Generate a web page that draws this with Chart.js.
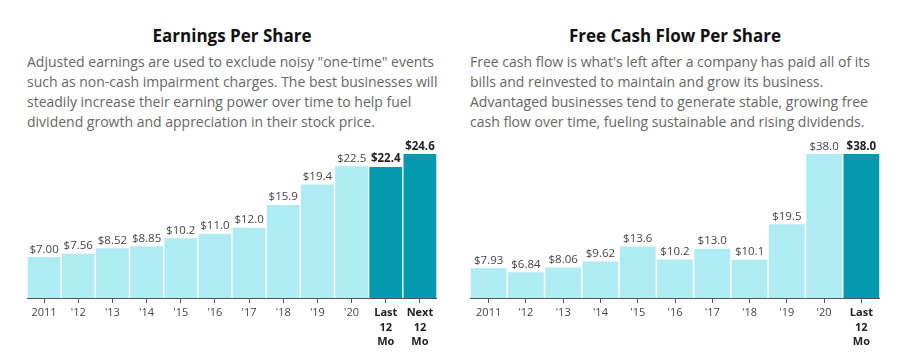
<!DOCTYPE html>
<html>
<head>
<meta charset="utf-8">
<script src="https://cdn.jsdelivr.net/npm/chart.js@4"></script>
<style>
  html, body { margin:0; padding:0; background:#fff; width:906px; height:357px; overflow:hidden; font-family:"Open Sans", sans-serif; }
  .title { position:absolute; top:24px; font-weight:700; font-size:17px; color:#111; text-align:center; line-height:24px; }
  .desc { position:absolute; top:52px; font-size:14px; line-height:20px; color:#666; }
  .box { position:absolute; top:140px; height:212px; }
</style>
</head>
<body>
<div class="title" style="left:27px;width:410px;">Earnings Per Share</div>
<div class="desc" style="left:27px;width:420px;">Adjusted earnings are used to exclude noisy "one-time" events such as non-cash impairment charges. The best businesses will steadily increase their earning power over time to help fuel dividend growth and appreciation in their stock price.</div>
<div class="title" style="left:470px;width:410px;">Free Cash Flow Per Share</div>
<div class="desc" style="left:470px;width:420px;">Free cash flow is what's left after a company has paid all of its bills and reinvested to maintain and grow its business. Advantaged businesses tend to generate stable, growing free cash flow over time, fueling sustainable and rising dividends.</div>

<div class="box" style="left:27px;width:410px;"><canvas id="eps"></canvas></div>
<div class="box" style="left:470px;width:410px;"><canvas id="fcf"></canvas></div>

<script>
const epsCategories = ["2011","'12","'13","'14","'15","'16","'17","'18","'19","'20",["Last","12","Mo"],["Next","12","Mo"]];
const epsValues = [7.00, 7.56, 8.52, 8.85, 10.2, 11.0, 12.0, 15.9, 19.4, 22.5, 22.4, 24.6];
const epsLabels = ["$7.00","$7.56","$8.52","$8.85","$10.2","$11.0","$12.0","$15.9","$19.4","$22.5","$22.4","$24.6"];
const epsHighlightFrom = 10;

const fcfCategories = ["2011","'12","'13","'14","'15","'16","'17","'18","'19","'20",["Last","12","Mo"]];
const fcfValues = [7.93, 6.84, 8.06, 9.62, 13.6, 10.2, 13.0, 10.1, 19.5, 38.0, 38.0];
const fcfLabels = ["$7.93","$6.84","$8.06","$9.62","$13.6","$10.2","$13.0","$10.1","$19.5","$38.0","$38.0"];
const fcfHighlightFrom = 10;

const LIGHT = '#AFEBF3';
const DARK = '#039AAF';

const valueLabelPlugin = {
  id: 'valueLabels',
  afterDatasetsDraw(chart) {
    const ctx = chart.ctx;
    const meta = chart.getDatasetMeta(0);
    const labels = chart.options.plugins.valueLabels.labels;
    const hl = chart.options.plugins.valueLabels.highlightFrom;
    ctx.save();
    ctx.textAlign = 'center';
    ctx.textBaseline = 'bottom';
    meta.data.forEach((bar, i) => {
      const bold = i >= hl;
      ctx.font = (bold ? '700 ' : '400 ') + '11.5px "Open Sans"';
      ctx.fillStyle = bold ? '#222' : '#444';
      ctx.fillText(labels[i], bar.x, bar.y - 2);
    });
    ctx.restore();
  }
};

function makeChart(id, cats, vals, labels, hl, maxV) {
  return new Chart(document.getElementById(id), {
    type: 'bar',
    data: {
      labels: cats,
      datasets: [{
        data: vals,
        backgroundColor: vals.map((v, i) => i >= hl ? DARK : LIGHT),
        barPercentage: 0.96,
        categoryPercentage: 1.0,
        borderWidth: 0
      }]
    },
    options: {
      responsive: true,
      maintainAspectRatio: false,
      animation: false,
      layout: { padding: { top: 14, left: 0, right: 0, bottom: 0 } },
      plugins: {
        legend: { display: false },
        tooltip: { enabled: false },
        valueLabels: { labels: labels, highlightFrom: hl }
      },
      scales: {
        x: {
          offset: true,
          grid: { display: true, drawOnChartArea: false, drawTicks: true, tickLength: 5, color: '#555', offset: false },
          border: { display: true, color: '#555', width: 1 },
          ticks: {
            maxRotation: 0,
            autoSkip: false,
            padding: 3,
            color: (c) => c.index >= hl ? '#222' : '#444',
            font: (c) => ({ family: '"Open Sans"', size: 11, weight: c.index >= hl ? '700' : '400', lineHeight: 1.3 })
          }
        },
        y: { display: false, min: 0, max: maxV }
      }
    },
    plugins: [valueLabelPlugin]
  });
}

makeChart('eps', epsCategories, epsValues, epsLabels, epsHighlightFrom, 24.6);
makeChart('fcf', fcfCategories, fcfValues, fcfLabels, fcfHighlightFrom, 38.0);
</script>
</body>
</html>
